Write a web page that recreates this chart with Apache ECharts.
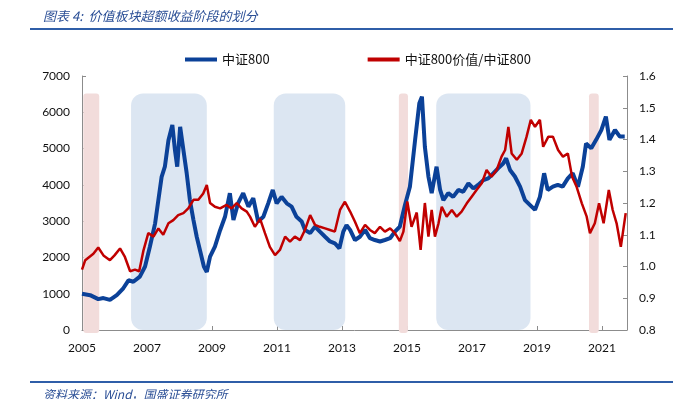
<!DOCTYPE html>
<html>
<head>
<meta charset="utf-8">
<script src="https://cdn.jsdelivr.net/npm/echarts@6/dist/echarts.min.js"></script>
<style>
  html, body { margin: 0; padding: 0; background: #fff; }
  #chart { width: 685px; height: 399px; }
</style>
</head>
<body>
<div id="chart"></div>
<script>
// 中证800 指数（左轴）
var csiYears = [
  2005.00, 2005.25, 2005.50, 2005.66, 2005.86, 2006.07, 2006.27, 2006.43, 2006.58, 2006.78,
  2006.94, 2007.09, 2007.25, 2007.35, 2007.45, 2007.55, 2007.66, 2007.78, 2007.86, 2007.93,
  2008.02, 2008.12, 2008.22, 2008.32, 2008.43, 2008.53, 2008.63, 2008.75, 2008.84, 2008.94,
  2009.09, 2009.25, 2009.40, 2009.55, 2009.66, 2009.80, 2009.96, 2010.12, 2010.27, 2010.42,
  2010.58, 2010.73, 2010.87, 2010.99, 2011.14, 2011.30, 2011.45, 2011.60, 2011.76, 2011.86,
  2012.02, 2012.17, 2012.32, 2012.48, 2012.63, 2012.78, 2012.92, 2013.04, 2013.14, 2013.25,
  2013.40, 2013.55, 2013.71, 2013.86, 2014.01, 2014.17, 2014.32, 2014.48, 2014.63, 2014.78,
  2014.94, 2015.09, 2015.25, 2015.38, 2015.46, 2015.55, 2015.66, 2015.76, 2015.91, 2016.02,
  2016.12, 2016.27, 2016.42, 2016.58, 2016.73, 2016.89, 2017.04, 2017.19, 2017.35, 2017.50,
  2017.66, 2017.81, 2017.96, 2018.05, 2018.17, 2018.32, 2018.48, 2018.63, 2018.78, 2018.94,
  2019.09, 2019.22, 2019.33, 2019.49, 2019.64, 2019.79, 2019.95, 2020.10, 2020.26, 2020.41,
  2020.51, 2020.67, 2020.82, 2020.98, 2021.12, 2021.23, 2021.40, 2021.55, 2021.70
];
var csiValues = [
  1000, 960, 850, 880, 830, 960, 1150, 1370, 1330, 1470,
  1750, 2300, 2940, 3580, 4220, 4500, 5230, 5650, 4960, 4500,
  5600, 4960, 4330, 3580, 3030, 2570, 2200, 1750, 1600, 2020,
  2300, 2750, 3120, 3770, 3030, 3490, 3770, 3400, 3630, 2990,
  3120, 3490, 3860, 3490, 3670, 3490, 3400, 3120, 2990, 2760,
  2670, 2850, 2710, 2570, 2440, 2390, 2250, 2710, 2890, 2760,
  2480, 2570, 2760, 2530, 2480, 2440, 2480, 2530, 2710, 2850,
  3450, 3950, 5240, 6250, 6430, 5050, 4230, 3770, 4500, 3860,
  3580, 3770, 3670, 3860, 3810, 4040, 3900, 4000, 4130, 4180,
  4320, 4460, 4590, 4730, 4410, 4230, 3950, 3580, 3450, 3310,
  3670, 4320, 3860, 3950, 4000, 3950, 4180, 4320, 3950, 4500,
  5140, 5010, 5240, 5510, 5880, 5240, 5510, 5330, 5330
];

// 中证800价值/中证800（右轴）
var ratioYears = [
  2005.00, 2005.10, 2005.35, 2005.50, 2005.66, 2005.86, 2006.00, 2006.17, 2006.32, 2006.48,
  2006.63, 2006.76, 2006.89, 2007.04, 2007.20, 2007.35, 2007.50, 2007.66, 2007.81, 2007.96,
  2008.12, 2008.27, 2008.43, 2008.58, 2008.73, 2008.84, 2008.94, 2009.09, 2009.25, 2009.45,
  2009.60, 2009.76, 2009.91, 2010.07, 2010.17, 2010.32, 2010.48, 2010.63, 2010.78, 2010.94,
  2011.09, 2011.25, 2011.40, 2011.55, 2011.71, 2011.86, 2012.02, 2012.17, 2012.32, 2012.48,
  2012.63, 2012.78, 2012.94, 2013.09, 2013.25, 2013.40, 2013.55, 2013.71, 2013.86, 2014.01,
  2014.17, 2014.32, 2014.48, 2014.63, 2014.78, 2014.89, 2015.01, 2015.14, 2015.30, 2015.42,
  2015.55, 2015.66, 2015.76, 2015.86, 2015.97, 2016.07, 2016.22, 2016.38, 2016.53, 2016.68,
  2016.84, 2016.99, 2017.14, 2017.30, 2017.45, 2017.60, 2017.76, 2017.91, 2018.02, 2018.12,
  2018.22, 2018.38, 2018.53, 2018.68, 2018.81, 2018.94, 2019.09, 2019.19, 2019.35, 2019.49,
  2019.65, 2019.80, 2019.95, 2020.08, 2020.22, 2020.38, 2020.53, 2020.63, 2020.78, 2020.91,
  2021.05, 2021.21, 2021.33, 2021.45, 2021.58, 2021.73
];
var ratioValues = [
  0.990, 1.020, 1.040, 1.060, 1.035, 1.020, 1.035, 1.057, 1.030, 0.985,
  0.990, 0.985, 1.050, 1.105, 1.094, 1.120, 1.100, 1.136, 1.146, 1.162,
  1.168, 1.183, 1.210, 1.210, 1.230, 1.257, 1.200, 1.188, 1.183, 1.194,
  1.183, 1.200, 1.183, 1.173, 1.157, 1.125, 1.150, 1.105, 1.062, 1.036,
  1.052, 1.094, 1.078, 1.094, 1.083, 1.115, 1.162, 1.131, 1.125, 1.120,
  1.115, 1.110, 1.178, 1.204, 1.173, 1.141, 1.105, 1.131, 1.115, 1.105,
  1.125, 1.110, 1.120, 1.105, 1.080, 1.110, 1.205, 1.125, 1.170, 1.052,
  1.200, 1.094, 1.178, 1.094, 1.136, 1.188, 1.157, 1.178, 1.157, 1.173,
  1.199, 1.220, 1.241, 1.262, 1.304, 1.283, 1.304, 1.346, 1.367, 1.440,
  1.356, 1.336, 1.356, 1.409, 1.462, 1.440, 1.462, 1.377, 1.409, 1.409,
  1.367, 1.346, 1.356, 1.283, 1.251, 1.199, 1.157, 1.105, 1.136, 1.199,
  1.136, 1.241, 1.178, 1.136, 1.062, 1.168
];

// 阶段划分（起止年份）
var pinkPeriods = [[2005.04, 2005.53], [2014.75, 2015.03], [2020.60, 2020.90]];
var bluePeriods = [[2006.51, 2008.84], [2010.90, 2013.10], [2015.90, 2018.80]];

var xTicks = [2005, 2007, 2009, 2011, 2013, 2015, 2017, 2019, 2021];

function zip(xs, ys) {
  return xs.map(function (x, i) { return [x, ys[i]]; });
}

function bandRender(top, bottom, radius, color) {
  return function (params, api) {
    var p0 = api.coord([api.value(0), top]);
    var p1 = api.coord([api.value(1), bottom]);
    return {
      type: 'rect',
      shape: { x: p0[0], y: p0[1], width: p1[0] - p0[0], height: p1[1] - p0[1], r: radius },
      style: { fill: color }
    };
  };
}

var axisGrey = '#8c8c8c';
var labelFont = { color: '#111', fontSize: 12, fontFamily: 'Lato' };

var chart = echarts.init(document.getElementById('chart'), null, { renderer: 'canvas' });

var option = {
  animation: false,
  backgroundColor: '#fff',
  title: [
    {
      text: '图表 4:  价值板块超额收益阶段的划分',
      left: 38, top: 5,
      textStyle: { fontSize: 13, fontStyle: 'italic', fontWeight: 'normal', color: '#2b4f96', fontFamily: 'Noto Sans CJK SC' }
    },
    {
      text: '资料来源：Wind，国盛证券研究所',
      left: 38, top: 383,
      textStyle: { fontSize: 12, fontStyle: 'italic', fontWeight: 'normal', color: '#2b4f96', fontFamily: 'Noto Sans CJK SC' }
    }
  ],
  graphic: [
    { type: 'line', shape: { x1: 30, y1: 29, x2: 673, y2: 29 }, style: { stroke: '#2f5ea8', lineWidth: 2 } },
    { type: 'line', shape: { x1: 30, y1: 382, x2: 673, y2: 382 }, style: { stroke: '#2f5ea8', lineWidth: 2 } }
  ],
  legend: {
    left: 180, top: 48,
    itemWidth: 32, itemHeight: 4, itemGap: 98,
    icon: 'rect',
    textStyle: { fontSize: 13, color: '#111', fontFamily: 'Noto Sans CJK SC' },
    data: ['中证800', '中证800价值/中证800']
  },
  grid: { left: 82, right: 58, top: 76, bottom: 69 },
  xAxis: {
    type: 'value',
    min: 2005, max: 2021.77, interval: 2,
    splitLine: { show: false },
    axisLine: { lineStyle: { color: axisGrey } },
    axisTick: { inside: true, length: 4, lineStyle: { color: axisGrey } },
    axisLabel: Object.assign({
      margin: 12,
      showMaxLabel: false,
      formatter: function (v) { return xTicks.indexOf(v) >= 0 ? String(v) : ''; }
    }, labelFont)
  },
  yAxis: [
    {
      type: 'value', min: 0, max: 7000, interval: 1000,
      splitLine: { show: false },
      axisLine: { show: true, lineStyle: { color: axisGrey } },
      axisTick: { show: true, inside: true, length: 4, lineStyle: { color: axisGrey } },
      axisLabel: Object.assign({ margin: 12, formatter: function (v) { return String(v); } }, labelFont)
    },
    {
      type: 'value', min: 0.8, max: 1.6, interval: 0.1,
      splitLine: { show: false },
      axisLine: { show: true, lineStyle: { color: axisGrey } },
      axisTick: { show: true, inside: true, length: 4, lineStyle: { color: axisGrey } },
      axisLabel: Object.assign({ margin: 12, formatter: function (v) { return v.toFixed(1); } }, labelFont)
    }
  ],
  series: [
    {
      type: 'custom', name: 'pink', silent: true, clip: false, z: 1,
      encode: { x: [0, 1] },
      renderItem: bandRender(6520, -80, 3, '#f2dcdb'),
      data: pinkPeriods
    },
    {
      type: 'custom', name: 'blue', silent: true, clip: false, z: 1,
      encode: { x: [0, 1] },
      renderItem: bandRender(6520, 0, 12, '#dce6f2'),
      data: bluePeriods
    },
    {
      name: '中证800', type: 'line', yAxisIndex: 0, z: 3,
      showSymbol: false, symbol: 'none',
      lineStyle: { width: 4, color: '#0b4198' },
      itemStyle: { color: '#0b4198' },
      data: zip(csiYears, csiValues)
    },
    {
      name: '中证800价值/中证800', type: 'line', yAxisIndex: 1, z: 4,
      showSymbol: false, symbol: 'none',
      lineStyle: { width: 2.5, color: '#c00000' },
      itemStyle: { color: '#c00000' },
      data: zip(ratioYears, ratioValues)
    }
  ]
};

chart.setOption(option);
</script>
</body>
</html>
